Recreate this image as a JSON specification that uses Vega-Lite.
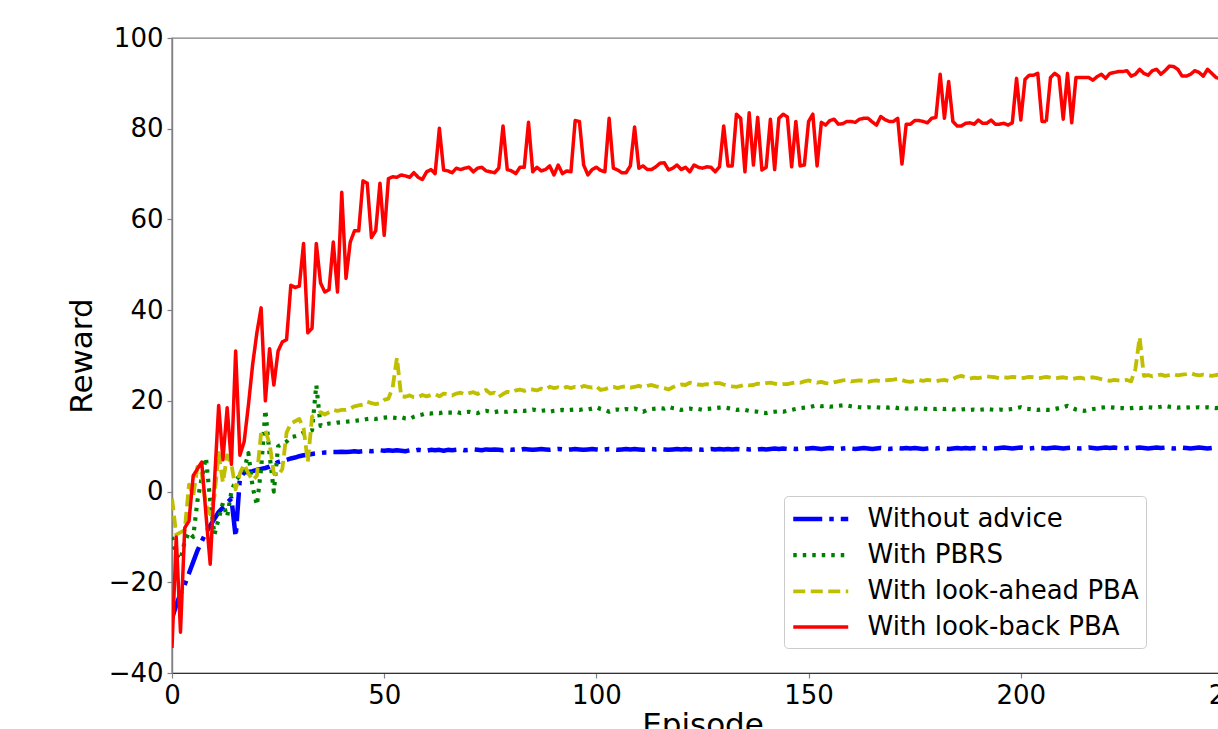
{
"$schema": "https://vega.github.io/schema/vega-lite/v6.json",
"width": 1061,
"height": 635,
"autosize": {"type": "none"},
"padding": {"left": 172, "top": 38, "right": 0, "bottom": 56},
"background": "white",
"config": {
  "view": {"stroke": "#808080", "strokeWidth": 1.4},
  "font": "DejaVu Sans",
  "axis": {"grid": false, "labelFlush": false, "labelFont": "DejaVu Sans", "labelFontSize": 26, "labelColor": "#000000", "titleFont": "DejaVu Sans", "titleFontSize": 31, "titleFontWeight": "normal", "titleColor": "#000000", "tickColor": "#808080", "tickSize": 5, "tickWidth": 1.2, "labelPadding": 4},
  "legend": {"title": null, "orient": "none", "legendX": 612, "legendY": 458, "padding": 7, "fillColor": "white", "strokeColor": "#cccccc", "cornerRadius": 4, "symbolType": "M-2,0H2", "symbolSize": 756.25, "symbolOffset": 13.75, "labelFont": "DejaVu Sans", "labelFontSize": 26, "labelColor": "#000000", "labelOffset": 30.75, "rowPadding": 7.2, "labelLimit": 400}
},
"data": {"values": [
{"e":0,"a":-28,"b":-10,"c":-1.5,"d":-34.5},
{"e":1,"a":-25,"b":-14,"c":-9.5,"d":-10},
{"e":2,"a":-22.5,"b":-15,"c":-9,"d":-31},
{"e":3,"a":-20.5,"b":-11,"c":-8.5,"d":-8},
{"e":4,"a":-18,"b":-9,"c":1.5,"d":-6.5},
{"e":5,"a":-15.5,"b":-10,"c":-1,"d":3.5},
{"e":6,"a":-13,"b":-2,"c":5.5,"d":5},
{"e":7,"a":-11,"b":3,"c":4,"d":6.5},
{"e":8,"a":-9,"b":7.5,"c":-3,"d":-5},
{"e":9,"a":-7.5,"b":-2,"c":-5,"d":-16},
{"e":10,"a":-6,"b":-9.5,"c":-1,"d":2},
{"e":11,"a":-4.5,"b":-6,"c":8.5,"d":19},
{"e":12,"a":-3.5,"b":-2.5,"c":2,"d":7},
{"e":13,"a":-2.5,"b":-5.5,"c":8,"d":18.5},
{"e":14,"a":-1.5,"b":0,"c":6,"d":6},
{"e":15,"a":-10,"b":2.5,"c":0.5,"d":31},
{"e":16,"a":3,"b":3.5,"c":4,"d":8},
{"e":17,"a":4.2,"b":4.8,"c":6,"d":11},
{"e":18,"a":4.3,"b":8.5,"c":4,"d":19},
{"e":19,"a":4.5,"b":1,"c":2.5,"d":28},
{"e":20,"a":4.8,"b":-3,"c":3.5,"d":35},
{"e":21,"a":5,"b":5,"c":13,"d":40.5},
{"e":22,"a":5.2,"b":18,"c":13.5,"d":20},
{"e":23,"a":5.5,"b":8,"c":10.5,"d":31.5},
{"e":24,"a":6,"b":0,"c":4,"d":23.5},
{"e":25,"a":6.5,"b":10,"c":3.5,"d":31},
{"e":26,"a":6.8,"b":10.5,"c":5,"d":33},
{"e":27,"a":7,"b":11,"c":13,"d":33.5},
{"e":28,"a":7.3,"b":12,"c":15,"d":45.5},
{"e":29,"a":7.5,"b":12.2,"c":15.5,"d":45},
{"e":30,"a":7.8,"b":12.5,"c":16,"d":45.3},
{"e":31,"a":8,"b":13,"c":14,"d":54.7},
{"e":32,"a":8.1,"b":13.2,"c":6.5,"d":35},
{"e":33,"a":8.3,"b":13.5,"c":16.5,"d":36},
{"e":34,"a":8.4,"b":23.5,"c":17,"d":54.7},
{"e":35,"a":8.5,"b":14.5,"c":17.5,"d":46},
{"e":36,"a":8.6,"b":14.8,"c":17,"d":44},
{"e":37,"a":8.6,"b":15,"c":17.5,"d":44.5},
{"e":38,"a":8.7,"b":15,"c":18,"d":55},
{"e":39,"a":8.7,"b":15.2,"c":17.8,"d":44},
{"e":40,"a":8.8,"b":15.3,"c":18,"d":66},
{"e":41,"a":8.7,"b":15.4,"c":18,"d":47},
{"e":42,"a":8.8,"b":15.5,"c":18.3,"d":55},
{"e":43,"a":8.9,"b":15.6,"c":18.8,"d":57.5},
{"e":44,"a":8.8,"b":15.7,"c":19,"d":57.5},
{"e":45,"a":8.9,"b":15.8,"c":19.2,"d":68.5},
{"e":46,"a":9,"b":16,"c":19.8,"d":68},
{"e":47,"a":8.9,"b":16.1,"c":19.5,"d":56},
{"e":48,"a":9,"b":16,"c":19.3,"d":57.5},
{"e":49,"a":9.1,"b":16.2,"c":19.5,"d":68},
{"e":50,"a":9,"b":16.3,"c":20.2,"d":56.5},
{"e":51,"a":9.1,"b":16.4,"c":20.5,"d":69},
{"e":52,"a":9,"b":16.3,"c":23,"d":69.4},
{"e":53,"a":9.1,"b":16.2,"c":29.5,"d":69.3},
{"e":54,"a":9,"b":16.4,"c":21,"d":69.8},
{"e":55,"a":8.9,"b":16.1,"c":20.9,"d":69.6},
{"e":56,"a":9.1,"b":16,"c":21.2,"d":69.3},
{"e":57,"a":9,"b":16.5,"c":20.8,"d":70.3},
{"e":58,"a":9.2,"b":16.8,"c":20.8,"d":69.3},
{"e":59,"a":9.1,"b":17,"c":21.3,"d":68.8},
{"e":60,"a":9,"b":17.3,"c":21,"d":70.5},
{"e":61,"a":9.2,"b":17.2,"c":21.3,"d":71},
{"e":62,"a":9.1,"b":17.4,"c":21.5,"d":70.1},
{"e":63,"a":9.2,"b":17.3,"c":21,"d":80.1},
{"e":64,"a":9,"b":17.5,"c":21.6,"d":70.9},
{"e":65,"a":9.2,"b":17.4,"c":21.5,"d":70.7},
{"e":66,"a":9.1,"b":17.4,"c":21.2,"d":70.3},
{"e":67,"a":9.2,"b":17.6,"c":21.6,"d":71.3},
{"e":68,"a":9.3,"b":17.3,"c":21.8,"d":71},
{"e":69,"a":9.1,"b":17.5,"c":21.4,"d":71.3},
{"e":70,"a":9.2,"b":17.6,"c":21.7,"d":71.5},
{"e":71,"a":9.3,"b":17.4,"c":21.9,"d":70.5},
{"e":72,"a":9.2,"b":17.3,"c":21.5,"d":71.3},
{"e":73,"a":9.1,"b":17.7,"c":22,"d":71.5},
{"e":74,"a":9.3,"b":17.8,"c":22.4,"d":70.7},
{"e":75,"a":9.2,"b":17.6,"c":21.6,"d":70.5},
{"e":76,"a":9.3,"b":17.5,"c":21.8,"d":70.3},
{"e":77,"a":9.2,"b":17.7,"c":20.9,"d":71.3},
{"e":78,"a":9.1,"b":17.6,"c":21.5,"d":80.6},
{"e":79,"a":9.3,"b":17.6,"c":22,"d":71},
{"e":80,"a":9.2,"b":17.8,"c":21.8,"d":70.7},
{"e":81,"a":9.3,"b":17.7,"c":22.3,"d":70.1},
{"e":82,"a":9.2,"b":17.9,"c":22.5,"d":71.5},
{"e":83,"a":9.4,"b":17.8,"c":22.2,"d":71.5},
{"e":84,"a":9.3,"b":17.9,"c":22.6,"d":81.4},
{"e":85,"a":9.2,"b":18.1,"c":22.5,"d":70.5},
{"e":86,"a":9.3,"b":17.9,"c":22.3,"d":71.5},
{"e":87,"a":9.4,"b":17.8,"c":22.7,"d":70.7},
{"e":88,"a":9.3,"b":17.9,"c":22.5,"d":71},
{"e":89,"a":9.2,"b":17.6,"c":23.1,"d":71.8},
{"e":90,"a":9.3,"b":17.8,"c":22.8,"d":69.8},
{"e":91,"a":9.4,"b":17.9,"c":23,"d":72},
{"e":92,"a":9.3,"b":18,"c":22.7,"d":70.1},
{"e":93,"a":9.2,"b":17.9,"c":23.1,"d":70.7},
{"e":94,"a":9.3,"b":18,"c":22.8,"d":70.5},
{"e":95,"a":9.4,"b":18.1,"c":23.1,"d":81.8},
{"e":96,"a":9.3,"b":18,"c":22.9,"d":81.6},
{"e":97,"a":9.2,"b":18.2,"c":23.3,"d":72},
{"e":98,"a":9.3,"b":18.1,"c":23.1,"d":69.8},
{"e":99,"a":9.4,"b":18.3,"c":22.9,"d":71},
{"e":100,"a":9.3,"b":18.6,"c":23.2,"d":71.5},
{"e":101,"a":9.2,"b":18.2,"c":22.4,"d":70.8},
{"e":102,"a":9.3,"b":18,"c":22.6,"d":70.5},
{"e":103,"a":9.4,"b":17.6,"c":22.9,"d":82.3},
{"e":104,"a":9.3,"b":18,"c":23.1,"d":71.3},
{"e":105,"a":9.2,"b":18.1,"c":22.8,"d":70.9},
{"e":106,"a":9.3,"b":17.9,"c":23.1,"d":70.3},
{"e":107,"a":9.4,"b":18.2,"c":23.2,"d":70.3},
{"e":108,"a":9.3,"b":18.1,"c":22.9,"d":71.8},
{"e":109,"a":9.4,"b":18.3,"c":23.1,"d":80.4},
{"e":110,"a":9.3,"b":18,"c":23.3,"d":71.3},
{"e":111,"a":9.2,"b":17.6,"c":23,"d":71.8},
{"e":112,"a":9.3,"b":18,"c":23.3,"d":71},
{"e":113,"a":9.4,"b":18.2,"c":23.5,"d":71},
{"e":114,"a":9.3,"b":18.3,"c":23.2,"d":71.6},
{"e":115,"a":9.4,"b":18.4,"c":23,"d":72.4},
{"e":116,"a":9.3,"b":18.3,"c":22.8,"d":72.5},
{"e":117,"a":9.2,"b":18.7,"c":22.5,"d":70.9},
{"e":118,"a":9.3,"b":18.4,"c":23,"d":71.3},
{"e":119,"a":9.4,"b":18.3,"c":23.4,"d":72},
{"e":120,"a":9.3,"b":18,"c":23.6,"d":71},
{"e":121,"a":9.4,"b":18.2,"c":23.5,"d":71.5},
{"e":122,"a":9.3,"b":18.3,"c":24,"d":70.5},
{"e":123,"a":9.4,"b":18.1,"c":23.8,"d":72},
{"e":124,"a":9.3,"b":18.2,"c":23.6,"d":71.5},
{"e":125,"a":9.2,"b":18,"c":23.5,"d":71.3},
{"e":126,"a":9.3,"b":18.2,"c":23.7,"d":71.6},
{"e":127,"a":9.4,"b":18.3,"c":23.5,"d":71.5},
{"e":128,"a":9.3,"b":18.4,"c":23.9,"d":70.5},
{"e":129,"a":9.4,"b":18.5,"c":23.9,"d":71.6},
{"e":130,"a":9.3,"b":18.6,"c":23.6,"d":80.6},
{"e":131,"a":9.4,"b":18.4,"c":23.4,"d":71.8},
{"e":132,"a":9.3,"b":18.2,"c":23.2,"d":71.8},
{"e":133,"a":9.4,"b":18,"c":23.1,"d":83.2},
{"e":134,"a":9.3,"b":18.1,"c":23.3,"d":82.3},
{"e":135,"a":9.4,"b":18,"c":23.6,"d":70.5},
{"e":136,"a":9.3,"b":17.8,"c":23.4,"d":83.5},
{"e":137,"a":9.4,"b":17.7,"c":23.5,"d":72},
{"e":138,"a":9.3,"b":17.6,"c":23.8,"d":82.5},
{"e":139,"a":9.4,"b":17.4,"c":23.7,"d":70.9},
{"e":140,"a":9.3,"b":17.3,"c":23.9,"d":71.5},
{"e":141,"a":9.4,"b":17.5,"c":24,"d":82.1},
{"e":142,"a":9.5,"b":17.6,"c":23.8,"d":71},
{"e":143,"a":9.4,"b":17.7,"c":23.6,"d":82.3},
{"e":144,"a":9.5,"b":17.6,"c":23.7,"d":83.2},
{"e":145,"a":9.4,"b":17.8,"c":23.7,"d":82.6},
{"e":146,"a":9.5,"b":18,"c":23.9,"d":71.6},
{"e":147,"a":9.4,"b":18.2,"c":24.1,"d":81.6},
{"e":148,"a":9.5,"b":18.4,"c":24,"d":71.8},
{"e":149,"a":9.4,"b":18.5,"c":24.3,"d":72},
{"e":150,"a":9.5,"b":18.6,"c":24.5,"d":81.6},
{"e":151,"a":9.6,"b":18.8,"c":24.2,"d":83.2},
{"e":152,"a":9.5,"b":19,"c":24,"d":71.8},
{"e":153,"a":9.4,"b":18.8,"c":24.2,"d":81.4},
{"e":154,"a":9.5,"b":18.9,"c":23.9,"d":80.8},
{"e":155,"a":9.6,"b":18.7,"c":23.8,"d":81.8},
{"e":156,"a":9.5,"b":18.8,"c":24.1,"d":82.1},
{"e":157,"a":9.4,"b":18.9,"c":24.3,"d":81},
{"e":158,"a":9.5,"b":19,"c":24.5,"d":81.1},
{"e":159,"a":9.6,"b":19,"c":24.6,"d":81.6},
{"e":160,"a":9.5,"b":18.8,"c":24.3,"d":81.6},
{"e":161,"a":9.4,"b":18.7,"c":24.4,"d":81.4},
{"e":162,"a":9.5,"b":18.6,"c":24.5,"d":82.1},
{"e":163,"a":9.6,"b":18.5,"c":24.4,"d":82.3},
{"e":164,"a":9.5,"b":18.6,"c":24.2,"d":82.3},
{"e":165,"a":9.4,"b":18.5,"c":24.4,"d":81.5},
{"e":166,"a":9.5,"b":18.6,"c":24.5,"d":80.8},
{"e":167,"a":9.6,"b":18.5,"c":24.3,"d":82.7},
{"e":168,"a":9.5,"b":18.6,"c":24.5,"d":82},
{"e":169,"a":9.4,"b":18.5,"c":24.6,"d":81.6},
{"e":170,"a":9.5,"b":18.6,"c":24.7,"d":81.6},
{"e":171,"a":9.6,"b":18.4,"c":24.9,"d":82.3},
{"e":172,"a":9.5,"b":18.5,"c":24.6,"d":72.2},
{"e":173,"a":9.6,"b":18.3,"c":24.3,"d":81},
{"e":174,"a":9.5,"b":18.4,"c":24.2,"d":81},
{"e":175,"a":9.6,"b":18.3,"c":24.4,"d":81.8},
{"e":176,"a":9.5,"b":18.4,"c":24.6,"d":81.8},
{"e":177,"a":9.4,"b":18.3,"c":24.4,"d":81.6},
{"e":178,"a":9.5,"b":18.2,"c":24.6,"d":81.3},
{"e":179,"a":9.6,"b":18.3,"c":24.5,"d":82.3},
{"e":180,"a":9.5,"b":18.2,"c":24.3,"d":82.5},
{"e":181,"a":9.6,"b":18.3,"c":24.5,"d":92},
{"e":182,"a":9.5,"b":18.2,"c":24.6,"d":82.3},
{"e":183,"a":9.4,"b":18.3,"c":24.4,"d":90.4},
{"e":184,"a":9.5,"b":18.1,"c":24.8,"d":81.6},
{"e":185,"a":9.6,"b":18.2,"c":25.3,"d":80.6},
{"e":186,"a":9.5,"b":18.1,"c":25.5,"d":80.6},
{"e":187,"a":9.6,"b":18.2,"c":25.2,"d":81.2},
{"e":188,"a":9.5,"b":18,"c":24.9,"d":81.3},
{"e":189,"a":9.6,"b":18.1,"c":25.1,"d":81},
{"e":190,"a":9.5,"b":18,"c":25,"d":81.9},
{"e":191,"a":9.6,"b":18.1,"c":25.2,"d":81.2},
{"e":192,"a":9.5,"b":18.2,"c":25.4,"d":81.2},
{"e":193,"a":9.6,"b":18.1,"c":25.3,"d":81.9},
{"e":194,"a":9.5,"b":18,"c":25.2,"d":81},
{"e":195,"a":9.6,"b":18.1,"c":25,"d":81},
{"e":196,"a":9.7,"b":18,"c":25.2,"d":81.2},
{"e":197,"a":9.6,"b":18.1,"c":25.1,"d":80.8},
{"e":198,"a":9.5,"b":18.2,"c":25.3,"d":81.3},
{"e":199,"a":9.6,"b":18.4,"c":25.2,"d":91.1},
{"e":200,"a":9.7,"b":18.6,"c":25,"d":81.9},
{"e":201,"a":9.6,"b":18.3,"c":25.1,"d":90.9},
{"e":202,"a":9.5,"b":18.2,"c":25.3,"d":91.8},
{"e":203,"a":9.6,"b":18.1,"c":25.2,"d":91.8},
{"e":204,"a":9.7,"b":18,"c":25,"d":92.2},
{"e":205,"a":9.6,"b":18.1,"c":25.1,"d":81.6},
{"e":206,"a":9.5,"b":18,"c":25.3,"d":81.6},
{"e":207,"a":9.6,"b":18,"c":25.1,"d":91.3},
{"e":208,"a":9.7,"b":18.2,"c":24.9,"d":92.2},
{"e":209,"a":9.6,"b":18.4,"c":25.1,"d":91.5},
{"e":210,"a":9.5,"b":18.6,"c":25.2,"d":82.1},
{"e":211,"a":9.6,"b":18.9,"c":25,"d":92.2},
{"e":212,"a":9.7,"b":18.5,"c":24.8,"d":81.3},
{"e":213,"a":9.6,"b":18.1,"c":25,"d":91.3},
{"e":214,"a":9.5,"b":17.9,"c":25.1,"d":91.3},
{"e":215,"a":9.6,"b":17.8,"c":24.9,"d":91.3},
{"e":216,"a":9.7,"b":18,"c":25.1,"d":91.3},
{"e":217,"a":9.6,"b":18.2,"c":25.2,"d":90.7},
{"e":218,"a":9.5,"b":18.3,"c":25,"d":91.5},
{"e":219,"a":9.6,"b":18.5,"c":24.8,"d":92},
{"e":220,"a":9.7,"b":18.6,"c":24.6,"d":91.1},
{"e":221,"a":9.6,"b":18.6,"c":24.4,"d":92.2},
{"e":222,"a":9.7,"b":18.5,"c":24.6,"d":92.4},
{"e":223,"a":9.6,"b":18.4,"c":24.5,"d":92.6},
{"e":224,"a":9.5,"b":18.4,"c":24.4,"d":92.6},
{"e":225,"a":9.6,"b":18.3,"c":24.6,"d":92.8},
{"e":226,"a":9.7,"b":18.4,"c":24.3,"d":91.6},
{"e":227,"a":9.6,"b":18.5,"c":27,"d":92},
{"e":228,"a":9.7,"b":18.4,"c":34,"d":93.1},
{"e":229,"a":9.6,"b":18.5,"c":25.5,"d":92.2},
{"e":230,"a":9.5,"b":18.6,"c":25.7,"d":91.8},
{"e":231,"a":9.6,"b":18.5,"c":25.4,"d":92.8},
{"e":232,"a":9.7,"b":18.6,"c":25.6,"d":93.1},
{"e":233,"a":9.6,"b":18.7,"c":25.8,"d":92},
{"e":234,"a":9.7,"b":18.9,"c":25.5,"d":92.8},
{"e":235,"a":9.6,"b":18.7,"c":25.7,"d":93.8},
{"e":236,"a":9.5,"b":18.6,"c":25.9,"d":93.7},
{"e":237,"a":9.6,"b":18.5,"c":25.6,"d":93.1},
{"e":238,"a":9.7,"b":18.6,"c":25.8,"d":91.6},
{"e":239,"a":9.6,"b":18.5,"c":25.9,"d":91.6},
{"e":240,"a":9.5,"b":18.6,"c":26.1,"d":92},
{"e":241,"a":9.6,"b":18.5,"c":25.8,"d":92.8},
{"e":242,"a":9.7,"b":18.6,"c":25.6,"d":92.4},
{"e":243,"a":9.6,"b":18.5,"c":25.8,"d":91.6},
{"e":244,"a":9.5,"b":18.6,"c":25.7,"d":93.1},
{"e":245,"a":9.6,"b":18.5,"c":25.5,"d":92.2},
{"e":246,"a":9.7,"b":18.4,"c":25.7,"d":91.3},
{"e":247,"a":9.6,"b":18.5,"c":25.8,"d":91},
{"e":248,"a":9.5,"b":18.4,"c":25.6,"d":91.5},
{"e":249,"a":9.6,"b":18.5,"c":25.7,"d":91}
]},
"transform": [{"fold": ["a", "b", "c", "d"], "as": ["k", "v"]}],
"mark": {"type": "line", "clip": true, "strokeJoin": "round"},
"encoding": {
  "x": {"field": "e", "type": "quantitative", "scale": {"domain": [0, 250], "nice": false, "zero": false},
        "axis": {"values": [0, 50, 100, 150, 200, 250], "title": "Episode", "titlePadding": 2, "domainColor": "#333333", "domainWidth": 1.2}},
  "y": {"field": "v", "type": "quantitative", "scale": {"domain": [-40, 100], "nice": false, "zero": false},
        "axis": {"values": [-40, -20, 0, 20, 40, 60, 80, 100], "title": "Reward", "titlePadding": 10, "domainColor": "#808080", "domainWidth": 1.4}},
  "color": {"field": "k", "type": "nominal",
            "scale": {"domain": ["a", "b", "c", "d"], "range": ["#0000ff", "#008000", "#bfbf00", "#ff0000"]},
            "legend": {"labelExpr": "datum.label == 'a' ? 'Without advice' : datum.label == 'b' ? 'With PBRS' : datum.label == 'c' ? 'With look-ahead PBA' : 'With look-back PBA'"}},
  "strokeDash": {"field": "k", "type": "nominal",
            "scale": {"domain": ["a", "b", "c", "d"], "range": [[29, 7, 4.5, 7], [3.5, 6], [12, 5.5], [1, 0]]},
            "legend": {"labelExpr": "datum.label == 'a' ? 'Without advice' : datum.label == 'b' ? 'With PBRS' : datum.label == 'c' ? 'With look-ahead PBA' : 'With look-back PBA'"}},
  "strokeWidth": {"field": "k", "type": "nominal",
            "scale": {"domain": ["a", "b", "c", "d"], "range": [4.5, 3.5, 3.5, 3]},
            "legend": {"labelExpr": "datum.label == 'a' ? 'Without advice' : datum.label == 'b' ? 'With PBRS' : datum.label == 'c' ? 'With look-ahead PBA' : 'With look-back PBA'"}}
}
}
